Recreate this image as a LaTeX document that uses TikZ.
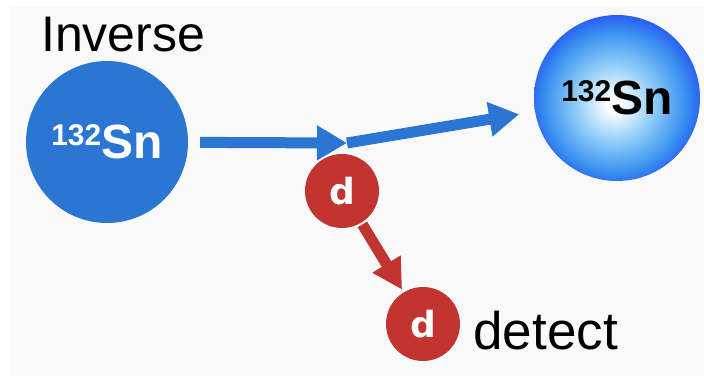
\documentclass[tikz,border=0pt]{standalone}
\usepackage{fontspec}
\setmainfont{Liberation Sans}
\newfontfamily\widefont{DejaVu Sans}
\usetikzlibrary{arrows.meta, positioning}

\definecolor{snblue}{HTML}{2A76D2}
\definecolor{dred}{HTML}{C1342F}
\definecolor{panelgray}{HTML}{F9F9F9}
\definecolor{rimblue}{HTML}{1F3CF5}
\definecolor{midblue}{HTML}{3A92F0}
\definecolor{paleblue}{HTML}{8CCBF7}

\pgfdeclareradialshading{snglow}{\pgfpoint{-1bp}{-2bp}}{%
  color(0bp)=(white); color(2bp)=(white);
  color(12bp)=(paleblue); color(21bp)=(midblue);
  color(26bp)=(rimblue!60!midblue); color(29bp)=(rimblue); color(50bp)=(rimblue)}

\newcommand{\isotope}[2]{\raisebox{13pt}{\fontsize{30}{30}\selectfont #1}{\fontsize{48}{48}\selectfont #2}}
\newcommand{\dlabel}{{\widefont\bfseries\fontsize{36}{36}\selectfont d}}

\begin{document}
\begin{tikzpicture}[
    x=1pt, y=-1pt,
    nucleus/.style={circle, minimum size=162pt, inner sep=0pt, font=\bfseries},
    deuteron/.style={circle, minimum size=74pt, inner sep=0pt, fill=dred, text=white},
    beam/.style={line width=11pt, draw=snblue, -{Triangle[length=30pt,width=33pt]}},
    recoil/.style={line width=11pt, draw=dred, -{Triangle[length=30pt,width=31pt]}},
    plaintext/.style={inner sep=0pt, font=\fontsize{50}{50}\selectfont}
]
    \useasboundingbox [fill=white] (0,0) rectangle (704,376);
    \fill [panelgray] (10,7) rectangle (704,376);

    \node (inverse) [plaintext, anchor=base west] at (41,51) {Inverse};
    \node (sn1) [nucleus, fill=snblue, text=white] at (107,142) {\isotope{132}{Sn}};
    \node (sn2) [nucleus, minimum size=166pt, shading=snglow, text=black] at (617,98) {\isotope{132}{Sn}};
    \node (d1) [deuteron] at (342,191) {\dlabel};
    \node (d2) [deuteron] at (423,324) {\dlabel};
    \node (detect) [plaintext, font=\fontsize{53}{53}\selectfont, right=13pt of d2, yshift=-7pt] {detect};
    \coordinate (hit) at (347,143);

    \draw [beam, shorten <=12pt] (sn1) -- (hit);
    \draw [beam, shorten >=16pt] (hit) -- (sn2);
    \draw [recoil, shorten <=2pt, shorten >=3pt] (d1) -- (d2);
\end{tikzpicture}
\end{document}
